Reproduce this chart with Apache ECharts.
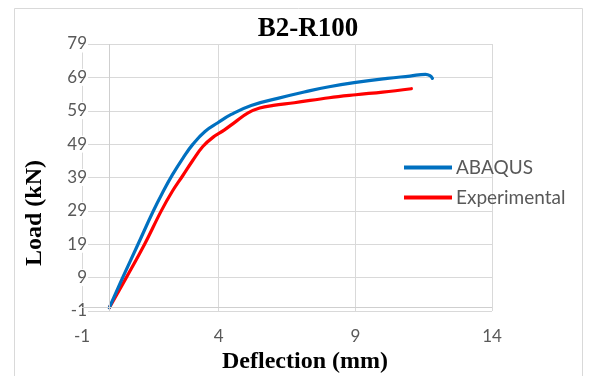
<!DOCTYPE html>
<html>
<head>
<meta charset="utf-8">
<script src="https://cdn.jsdelivr.net/npm/echarts@6/dist/echarts.min.js"></script>
<style>
html,body{margin:0;padding:0;background:#fff;}
#chart{width:591px;height:376px;}
</style>
</head>
<body>
<div id="chart"></div>
<script>
// ---- data (deflection in mm, load in kN) ----
const abaqusX = [0, 0.5, 1.05, 1.6, 1.95, 2.3, 2.7, 3.06, 3.5, 3.97, 4.46, 5.19, 6.16, 7.13, 8.04, 9.02, 10.17, 11.0, 11.57, 11.73, 11.82];
const abaqusY = [0, 9.2, 19, 28.8, 34.5, 39.7, 44.9, 49.0, 52.8, 55.4, 57.9, 60.6, 62.7, 64.6, 66.2, 67.5, 68.7, 69.4, 69.9, 69.5, 68.7];
const expX = [0, 0.62, 1.29, 1.9, 2.3, 2.69, 3.05, 3.42, 3.8, 4.2, 4.6, 5.06, 5.5, 6.0, 6.77, 8.04, 9.02, 10.0, 11.05];
const expY = [0, 9, 19, 29, 34.8, 39.6, 44.1, 48.3, 51.1, 53.2, 55.6, 58.3, 59.8, 60.6, 61.4, 62.9, 63.8, 64.6, 65.6];
const xTicks = [-1, 4, 9, 14];
const yTicks = [-1, 9, 19, 29, 39, 49, 59, 69, 79];
const seriesNames = ['ABAQUS', 'Experimental'];
const titleText = 'B2-R100';
const xName = 'Deflection (mm)';
const yName = 'Load (kN)';

// axis origin offset so ticks fall on -1, 4, 9, ...
const X0 = xTicks[0], Y0 = yTicks[0];
const xStep = xTicks[1] - xTicks[0], yStep = yTicks[1] - yTicks[0];
const toPts = (xs, ys) => xs.map((x, i) => [x - X0, ys[i] - Y0]);

const chart = echarts.init(document.getElementById('chart'));
const labelColor = '#595959';
const gridColor = '#d9d9d9';
const sans = 'Lato, "Open Sans", sans-serif';
const serif = '"Liberation Serif", "DejaVu Serif", serif';

chart.setOption({
  animation: false,
  backgroundColor: '#fff',
  grid: {left: 82, right: 99, top: 44, bottom: 65, containLabel: false},
  xAxis: {
    type: 'value', min: 0, max: xTicks[xTicks.length - 1] - X0, interval: xStep,
    axisLine: {show: false}, axisTick: {show: false},
    splitLine: {show: true, showMinLine: true, showMaxLine: true, lineStyle: {color: gridColor, width: 1}},
    axisLabel: {color: labelColor, fontFamily: sans, fontSize: 17, margin: 17,
      formatter: v => String(Math.round(v + X0))}
  },
  yAxis: {
    type: 'value', min: 0, max: yTicks[yTicks.length - 1] - Y0, interval: yStep,
    axisLine: {show: false}, axisTick: {show: false},
    splitLine: {show: true, showMinLine: true, showMaxLine: true, lineStyle: {color: gridColor, width: 1}},
    axisLabel: {color: labelColor, fontFamily: sans, fontSize: 17, margin: -6,
      backgroundColor: '#fff', padding: [0, 1, 0, 1],
      formatter: v => String(Math.round(v + Y0))}
  },
  legend: {
    orient: 'vertical', left: 404, top: 158, padding: 0, itemWidth: 48, itemHeight: 4, itemGap: 11,
    icon: 'rect', data: seriesNames,
    textStyle: {color: labelColor, fontFamily: sans, fontSize: 19, padding: [0, 0, 0, -1]}
  },
  graphic: [
    {type: 'rect', z: -10, silent: true,
      shape: {x: 14.5, y: 8.5, width: 568, height: 400},
      style: {fill: 'none', stroke: gridColor, lineWidth: 1}},
    {type: 'text', silent: true, x: 308, y: 29,
      style: {text: titleText, font: 'bold 27px ' + serif, fill: '#000', textAlign: 'center', textVerticalAlign: 'middle'}},
    {type: 'text', silent: true, x: 305, y: 362,
      style: {text: xName, font: 'bold 24px ' + serif, fill: '#000', textAlign: 'center', textVerticalAlign: 'middle'}},
    {type: 'text', silent: true, x: 35, y: 213, rotation: Math.PI / 2,
      style: {text: yName, font: 'bold 24px ' + serif, fill: '#000', textAlign: 'center', textVerticalAlign: 'middle'}}
  ],
  series: [
    {
      name: '_axes', type: 'line', data: [], silent: true, z: 1,
      markLine: {
        silent: true, symbol: 'none', animation: false, label: {show: false},
        lineStyle: {color: '#cfcfcf', type: 'solid', width: 1},
        data: [{xAxis: 0 - X0}, {yAxis: 0 - Y0}]
      }
    },
    {
      name: seriesNames[0], type: 'line', data: toPts(abaqusX, abaqusY), smooth: 0.45,
      showSymbol: false, z: 3, color: '#0070C0',
      lineStyle: {color: '#0070C0', width: 3.2, cap: 'round', join: 'round'}
    },
    {
      name: seriesNames[1], type: 'line', data: toPts(expX, expY), smooth: 0.4,
      showSymbol: false, z: 2, color: '#FF0000',
      lineStyle: {color: '#FF0000', width: 3.2, cap: 'round', join: 'round'}
    }
  ]
});
</script>
</body>
</html>
